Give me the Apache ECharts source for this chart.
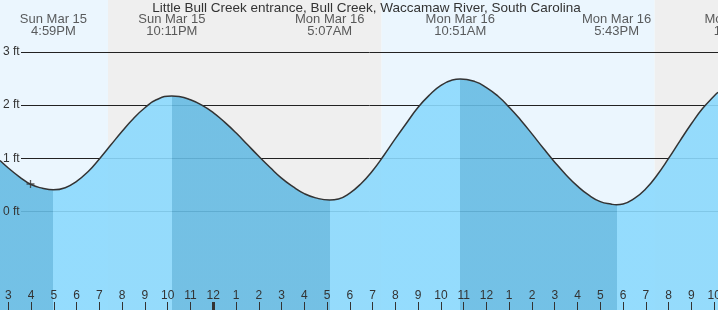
<!DOCTYPE html>
<html><head><meta charset="utf-8">
<script src="https://cdn.jsdelivr.net/npm/echarts@6/dist/echarts.min.js"></script>
<style>html,body{margin:0;padding:0;background:#fff;overflow:hidden}#c{width:718px;height:310px}</style>
</head><body><div id="c"></div>
<script>
// Time unit: hours after Sun Mar 15, 3:00 PM
const TITLE = 'Little Bull Creek entrance, Bull Creek, Waccamaw River, South Carolina';
const tideTimes   = [-0.3645, 0, 0.5, 1, 1.5, 1.983, 2.5, 3, 3.5, 4, 4.5, 5, 5.5, 6, 6.5, 7.183, 7.5, 8, 8.5, 9, 9.5, 10, 10.5, 11, 11.5, 12, 12.5, 13, 13.5, 14.117, 14.5, 15, 15.5, 16, 16.5, 17, 17.5, 18, 18.5, 19, 19.5, 19.85, 20.5, 21, 21.5, 22, 22.5, 23, 23.5, 24, 24.5, 25, 25.5, 26, 26.5, 26.717, 27, 27.5, 28, 28.5, 29, 29.5, 30, 30.5, 31, 31.17];
const tideHeights = [0.96, 0.82, 0.65, 0.51, 0.44, 0.41, 0.45, 0.57, 0.75, 0.99, 1.25, 1.51, 1.75, 1.95, 2.10, 2.17, 2.16, 2.10, 2.00, 1.86, 1.68, 1.48, 1.26, 1.04, 0.83, 0.63, 0.47, 0.34, 0.26, 0.22, 0.24, 0.35, 0.53, 0.77, 1.06, 1.37, 1.67, 1.96, 2.19, 2.37, 2.47, 2.49, 2.44, 2.33, 2.17, 1.96, 1.72, 1.46, 1.19, 0.93, 0.69, 0.48, 0.31, 0.19, 0.14, 0.13, 0.145, 0.25, 0.43, 0.69, 1.00, 1.33, 1.65, 1.94, 2.17, 2.24];
const extremeTimes  = [1.983, 7.183, 14.117, 19.85, 26.717, 32.1];
const extremeLabels = ['Sun Mar 15\n4:59PM', 'Sun Mar 15\n10:11PM', 'Mon Mar 16\n5:07AM', 'Mon Mar 16\n10:51AM', 'Mon Mar 16\n5:43PM', 'Mon Mar 16\n11:05PM'];
const hourTicks  = [0,1,2,3,4,5,6,7,8,9,10,11,12,13,14,15,16,17,18,19,20,21,22,23,24,25,26,27,28,29,30,31];
const hourLabels = ['3','4','5','6','7','8','9','10','11','12','1','2','3','4','5','6','7','8','9','10','11','12','1','2','3','4','5','6','7','8','9','10'];
const midnightTicks = [9];
const dayBands   = [[-0.3645, 4.38], [16.38, 28.39]];
const nightBands = [[4.38, 16.38], [28.39, 31.17]];
const ftTicks = [0, 1, 2, 3];
const nowPoint = [0.975, 0.52];

const X_MIN = -0.3645, X_MAX = 31.17, Y_MIN = -1.844, Y_MAX = 3.972;
const FONT = 'Liberation Sans, Arial, sans-serif';
const DAY = '#ebf6fe', NIGHT = '#efefef';
const FALL = '#66bbe3', RISE = '#8bd9fd';

const tide = tideTimes.map((t, i) => [t, tideHeights[i]]);

const waterBreaks = extremeTimes.slice(0, 5);
const pieces = [];
let prev = null;
for (let i = 0; i <= waterBreaks.length; i++) {
  const p = {color: i % 2 === 0 ? FALL : RISE};
  if (prev !== null) p.gte = prev;
  if (i < waterBreaks.length) p.lt = waterBreaks[i];
  pieces.push(p);
  prev = waterBreaks[i];
}

const bandData = dayBands.map(b => [{xAxis: b[0], itemStyle: {color: DAY}}, {xAxis: b[1]}])
  .concat(nightBands.map(b => [{xAxis: b[0], itemStyle: {color: NIGHT}}, {xAxis: b[1]}]));

const chart = echarts.init(document.getElementById('c'), null, {renderer: 'canvas'});
chart.setOption({
  animation: false,
  backgroundColor: '#fff',
  textStyle: {fontFamily: FONT},
  graphic: [{
    type: 'text', x: 366.5, y: 8, z: 20,
    style: {text: TITLE, align: 'center', verticalAlign: 'middle', fill: '#333', font: '13.5px ' + FONT}
  }],
  grid: [
    {left: 0, right: 0, top: 0, bottom: 0, containLabel: false, outerBoundsMode: 'none'},
    {left: 21, right: 0, top: 0, bottom: 0, containLabel: false, outerBoundsMode: 'none'}
  ],
  xAxis: [
    {gridIndex: 0, type: 'value', min: X_MIN, max: X_MAX, position: 'bottom', z: 6,
     axisLine: {show: false, onZero: false}, splitLine: {show: false},
     axisTick: {show: true, inside: true, length: 8, customValues: hourTicks, lineStyle: {color: '#333', width: 1}},
     axisLabel: {show: true, inside: true, margin: 8, customValues: hourTicks, color: '#333', fontSize: 12, fontFamily: FONT,
       formatter: v => hourLabels[hourTicks.indexOf(v)]}},
    {gridIndex: 0, type: 'value', min: X_MIN, max: X_MAX, position: 'bottom', z: 7,
     axisLine: {show: false, onZero: false}, splitLine: {show: false}, axisLabel: {show: false},
     axisTick: {show: true, inside: true, length: 8, customValues: midnightTicks, lineStyle: {color: '#333', width: 3}}},
    {gridIndex: 1, type: 'value', min: X_MIN, max: X_MAX, show: false, axisLine: {onZero: false}}
  ],
  yAxis: [
    {gridIndex: 0, type: 'value', min: Y_MIN, max: Y_MAX, z: 6,
     axisLine: {show: false, onZero: false}, axisTick: {show: false, customValues: ftTicks}, splitLine: {show: false},
     axisLabel: {show: true, inside: true, margin: 3, customValues: ftTicks, color: '#333', fontSize: 12, fontFamily: FONT,
       formatter: v => v + ' ft'}},
    {gridIndex: 1, type: 'value', min: Y_MIN, max: Y_MAX, z: 2,
     axisLine: {show: false, onZero: false}, axisTick: {show: false, customValues: ftTicks}, axisLabel: {show: false},
     splitLine: {show: true, lineStyle: {color: '#222', width: 1}}}
  ],
  visualMap: [{
    type: 'piecewise', show: false, dimension: 0, seriesIndex: 1, pieces: pieces
  }],
  series: [
    {type: 'line', xAxisIndex: 0, yAxisIndex: 0, z: 1, data: [[X_MIN, Y_MIN]], symbol: 'none',
     lineStyle: {width: 0}, silent: true,
     markArea: {silent: true, data: bandData}},
    {type: 'line', xAxisIndex: 0, yAxisIndex: 0, z: 3, data: tide, smooth: true, symbol: 'none',
     lineStyle: {width: 0}, areaStyle: {opacity: 0.9, origin: 'start'}, silent: true},
    {type: 'line', xAxisIndex: 0, yAxisIndex: 0, z: 4, data: tide, smooth: true, symbol: 'none',
     lineStyle: {color: '#333', width: 1.5}, silent: true},
    {type: 'scatter', xAxisIndex: 0, yAxisIndex: 0, z: 8, clip: false, silent: true,
     data: extremeTimes.map(t => [t, Y_MAX]), symbolSize: 1, itemStyle: {color: 'transparent'},
     label: {show: true, position: 'bottom', distance: 13, color: '#333', fontSize: 13, lineHeight: 12, fontFamily: FONT,
       align: 'center', formatter: p => extremeLabels[p.dataIndex]}},
    {type: 'scatter', xAxisIndex: 0, yAxisIndex: 0, z: 9, silent: true,
     data: [nowPoint], symbol: 'path://M0,5H10M5,0V10', symbolSize: 8,
     itemStyle: {color: 'none', borderColor: '#333', borderWidth: 1.3}}
  ]
});
</script></body></html>
